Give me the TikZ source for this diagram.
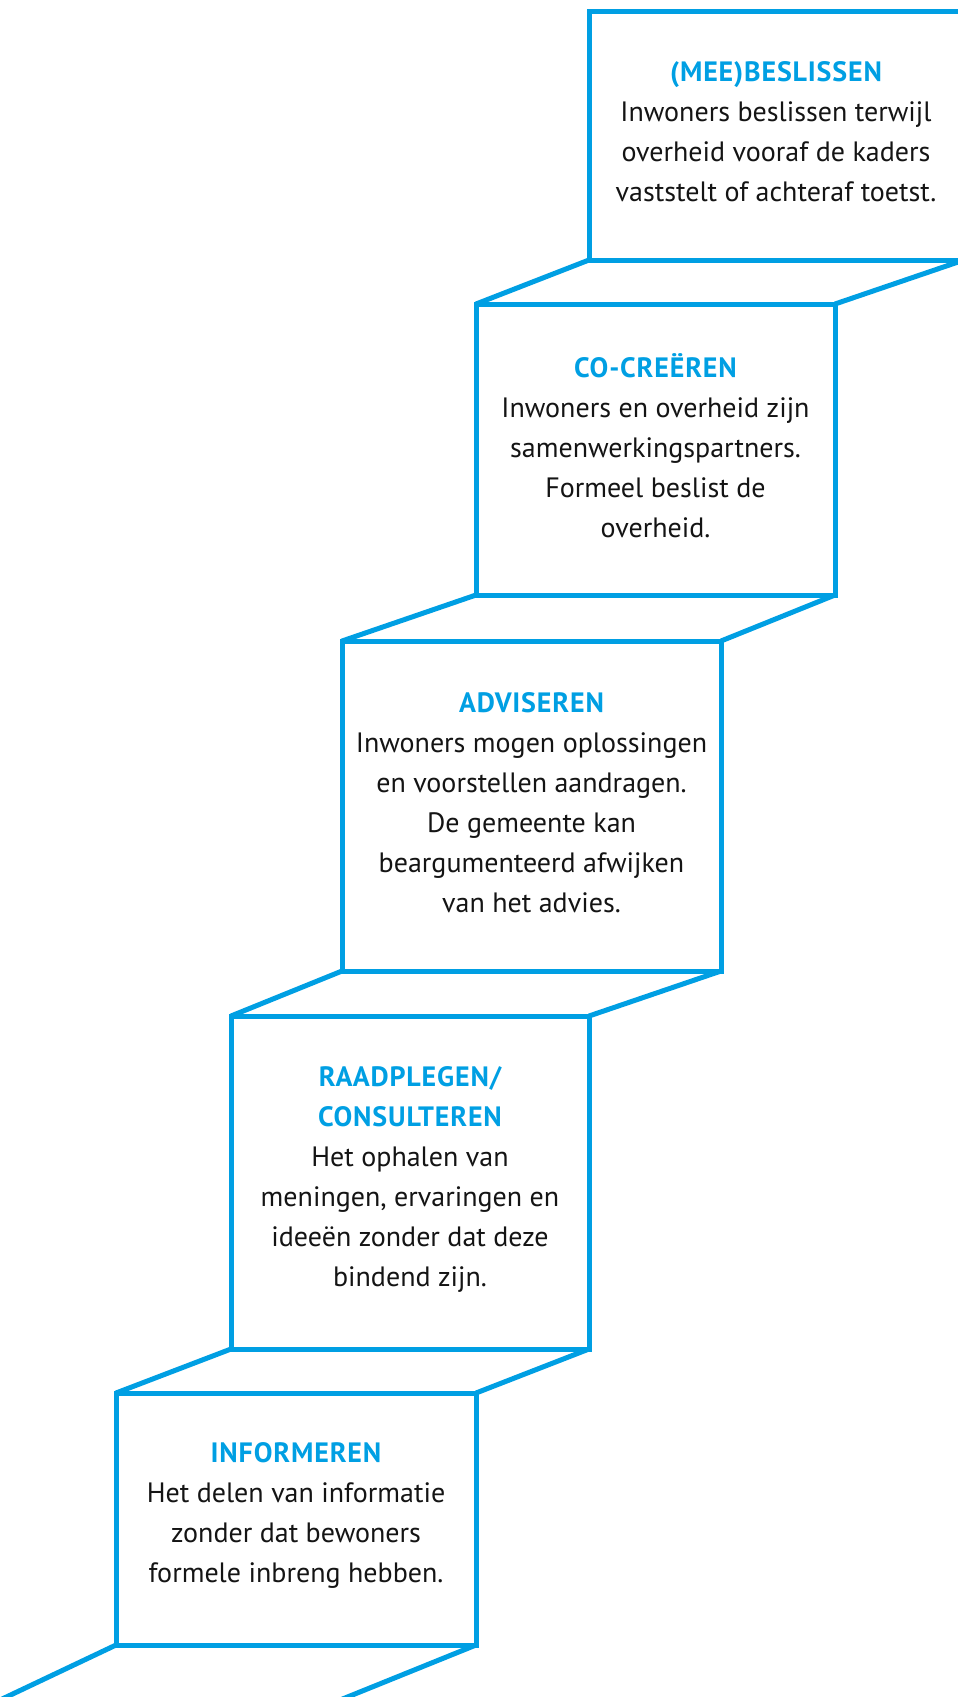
\documentclass[tikz,border=0pt]{standalone}
\usepackage{fontspec}
\setmainfont{PT Sans}
\definecolor{stepblue}{RGB}{0,159,227}
\definecolor{steptext}{RGB}{20,20,20}
\begin{document}
\begin{tikzpicture}[x=1pt,y=-1pt,
  stepbox/.style={draw=stepblue, line width=5pt, rectangle, inner sep=0pt, outer sep=0pt,
    align=center, text=steptext, font=\fontsize{28}{40}\selectfont},
  riser/.style={draw=stepblue, line width=5pt}]
\useasboundingbox (0,0) rectangle (958,1697);
\clip (0,0) rectangle (958,1697);
\newcommand{\ttl}[1]{{\color{stepblue}\bfseries\addfontfeature{LetterSpace=3}#1}}
\node[stepbox, minimum width=375pt, minimum height=249pt] (b1) at (776.5,135.5) {};
\node[stepbox, minimum width=359pt, minimum height=291pt] (b2) at (655.5,449.5) {};
\node[stepbox, minimum width=379pt, minimum height=330pt] (b3) at (531.5,806) {};
\node[stepbox, minimum width=358pt, minimum height=333pt] (b4) at (410,1182.5) {};
\node[stepbox, minimum width=360pt, minimum height=252pt] (b5) at (296,1519) {};
\node[stepbox, draw=none] (t1) at (776,132) {\ttl{(MEE)BESLISSEN}\\Inwoners beslissen terwijl\\overheid vooraf de kaders\\vaststelt of achteraf toetst.};
\node[stepbox, draw=none] (t2) at (655.5,446) {\ttl{CO-CREËREN}\\Inwoners en overheid zijn\\samenwerkingspartners.\\Formeel beslist de\\overheid.};
\node[stepbox, draw=none] (t3) at (531.5,803) {\ttl{ADVISEREN}\\Inwoners mogen oplossingen\\en voorstellen aandragen.\\De gemeente kan\\beargumenteerd afwijken\\van het advies.};
\node[stepbox, draw=none] (t4) at (410,1179) {\ttl{RAADPLEGEN/}\\\ttl{CONSULTEREN}\\Het ophalen van\\meningen, ervaringen en\\ideeën zonder dat deze\\bindend zijn.};
\node[stepbox, draw=none] (t5) at (296,1515) {\ttl{INFORMEREN}\\Het delen van informatie\\zonder dat bewoners\\formele inbreng hebben.};
\coordinate (e1) at (0,1700);
\coordinate (e2) at (340,1700);
\draw[riser] (b1.south west) -- (b2.north west);
\draw[riser] (b1.south east) -- (b2.north east);
\draw[riser] (b2.south west) -- (b3.north west);
\draw[riser] (b2.south east) -- (b3.north east);
\draw[riser] (b3.south west) -- (b4.north west);
\draw[riser] (b3.south east) -- (b4.north east);
\draw[riser] (b4.south west) -- (b5.north west);
\draw[riser] (b4.south east) -- (b5.north east);
\draw[riser] (b5.south west) -- (e1);
\draw[riser] (b5.south east) -- (e2);
\end{tikzpicture}
\end{document}
